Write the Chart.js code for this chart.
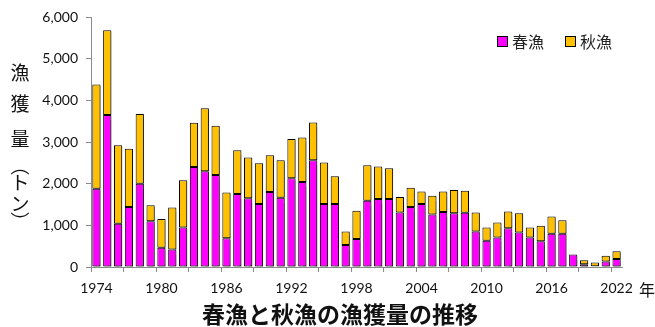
<!DOCTYPE html>
<html>
<head>
<meta charset="utf-8">
<script src="https://cdn.jsdelivr.net/npm/chart.js@4"></script>
<style>
  html, body { margin: 0; padding: 0; background: #fff; }
  #wrap { width: 655px; height: 327px; }
</style>
</head>
<body>
<div id="wrap"><canvas id="c" width="655" height="327"></canvas></div>
<script>
const years = ["1974","1975","1976","1977","1978","1979","1980","1981","1982","1983",
  "1984","1985","1986","1987","1988","1989","1990","1991","1992","1993",
  "1994","1995","1996","1997","1998","1999","2000","2001","2002","2003",
  "2004","2005","2006","2007","2008","2009","2010","2011","2012","2013",
  "2014","2015","2016","2017","2018","2019","2020","2021","2022"];

const springCatch = [1880,3650,1040,1440,2000,1100,460,420,950,2400,
  2300,2210,690,1750,1650,1510,1800,1660,2130,2040,
  2560,1510,1510,530,670,1590,1630,1630,1310,1440,
  1510,1260,1320,1290,1300,850,630,710,930,830,
  710,620,800,800,300,65,20,130,190];

const autumnCatch = [2500,2030,1880,1400,1670,380,690,1010,1130,1060,
  1510,1180,1100,1050,980,980,880,900,940,1070,
  910,1000,670,320,680,850,780,740,370,460,
  300,450,490,560,530,460,320,360,400,460,
  240,370,410,320,0,95,90,140,190];

const seriesNames = ["春漁", "秋漁"];
const yTicks = [0, 1000, 2000, 3000, 4000, 5000, 6000];
const yTitleChars = ["漁", "獲", "量", "︵", "ト", "ン", "︶"];
const xUnit = "年";
const chartTitle = "春漁と秋漁の漁獲量の推移";

const COL_SPRING = "#FF00FF";
const COL_AUTUMN = "#FFC000";
const AXIS_COL = "#8a8a8a";
const JP = "'Noto Sans CJK JP', 'Noto Sans', sans-serif";

const shadowPlugin = {
  id: "barShadow",
  beforeDatasetsDraw(chart) {
    const ctx = chart.ctx;
    ctx.save();
    ctx.shadowColor = "rgba(0,0,0,0.35)";
    ctx.shadowOffsetX = 1.5;
    ctx.shadowOffsetY = 1.5;
    ctx.shadowBlur = 1;
  },
  afterDatasetsDraw(chart) {
    chart.ctx.restore();
  }
};

const decorPlugin = {
  id: "decor",
  afterDraw(chart) {
    const ctx = chart.ctx;
    const ca = chart.chartArea;
    ctx.save();
    ctx.fillStyle = "#111";
    ctx.textAlign = "center";
    ctx.textBaseline = "middle";

    // vertical y-axis title
    ctx.font = "19px " + JP;
    const ys = [73, 104, 139, 166, 183, 204, 222];
    yTitleChars.forEach((ch, i) => {
      ctx.fillText(ch, 20, ys[i]);
    });

    // unit 年
    ctx.font = "16px " + JP;
    ctx.fillText(xUnit, 647, 290);

    // main title
    ctx.font = "bold 23px " + JP;
    ctx.fillText(chartTitle, 340, 314);

    // legend
    const items = chart.data.datasets.map(d => ({ label: d.label, color: d.backgroundColor }));
    const lx = [497, 565];
    ctx.font = "16px " + JP;
    ctx.textAlign = "left";
    items.forEach((it, i) => {
      const x = lx[i], y = 36;
      ctx.fillStyle = it.color;
      ctx.fillRect(x, y, 11, 11);
      ctx.strokeStyle = "#000";
      ctx.lineWidth = 1;
      ctx.strokeRect(x + 0.5, y + 0.5, 10, 10);
      ctx.fillStyle = "#222";
      ctx.fillText(it.label, x + 15, y + 6);
    });
    ctx.restore();
  }
};

new Chart(document.getElementById("c"), {
  type: "bar",
  data: {
    labels: years,
    datasets: [
      { label: seriesNames[0], data: springCatch, backgroundColor: COL_SPRING,
        borderColor: "#000", borderWidth: 1, borderSkipped: false },
      { label: seriesNames[1], data: autumnCatch, backgroundColor: COL_AUTUMN,
        borderColor: "#000", borderWidth: 1, borderSkipped: false }
    ]
  },
  options: {
    responsive: false,
    animation: false,
    devicePixelRatio: 1,
    layout: { padding: { top: 17, right: 33, left: 0, bottom: 0 } },
    datasets: { bar: { categoryPercentage: 1.0, barPercentage: 0.76 } },
    plugins: {
      legend: { display: false },
      title: { display: false },
      tooltip: { enabled: false }
    },
    scales: {
      x: {
        stacked: true,
        offset: true,
        afterFit: s => { s.height = 60; },
        grid: {
          offset: true,
          drawOnChartArea: false,
          drawTicks: true,
          tickLength: 5,
          color: ctx => (ctx.index % 3 === 0 ? AXIS_COL : "rgba(0,0,0,0)")
        },
        border: { display: true, color: AXIS_COL, width: 1 },
        ticks: {
          autoSkip: false,
          maxRotation: 0,
          minRotation: 0,
          padding: 8,
          color: "#111",
          font: { family: "Lato, 'Open Sans', sans-serif", size: 14 },
          callback: function(v, i) { return i % 6 === 0 ? this.getLabelForValue(v) : ""; }
        }
      },
      y: {
        stacked: true,
        min: yTicks[0],
        max: yTicks[yTicks.length - 1],
        afterFit: s => { s.width = 91; },
        afterBuildTicks: s => { s.ticks = yTicks.map(v => ({ value: v })); },
        grid: {
          drawOnChartArea: false,
          drawTicks: true,
          tickLength: 5,
          color: AXIS_COL
        },
        border: { display: true, color: AXIS_COL, width: 1 },
        ticks: {
          padding: 8,
          color: "#111",
          font: { family: "Lato, 'Open Sans', sans-serif", size: 14 },
          callback: v => v.toLocaleString("en-US")
        }
      }
    }
  },
  plugins: [shadowPlugin, decorPlugin]
});
</script>
</body>
</html>
